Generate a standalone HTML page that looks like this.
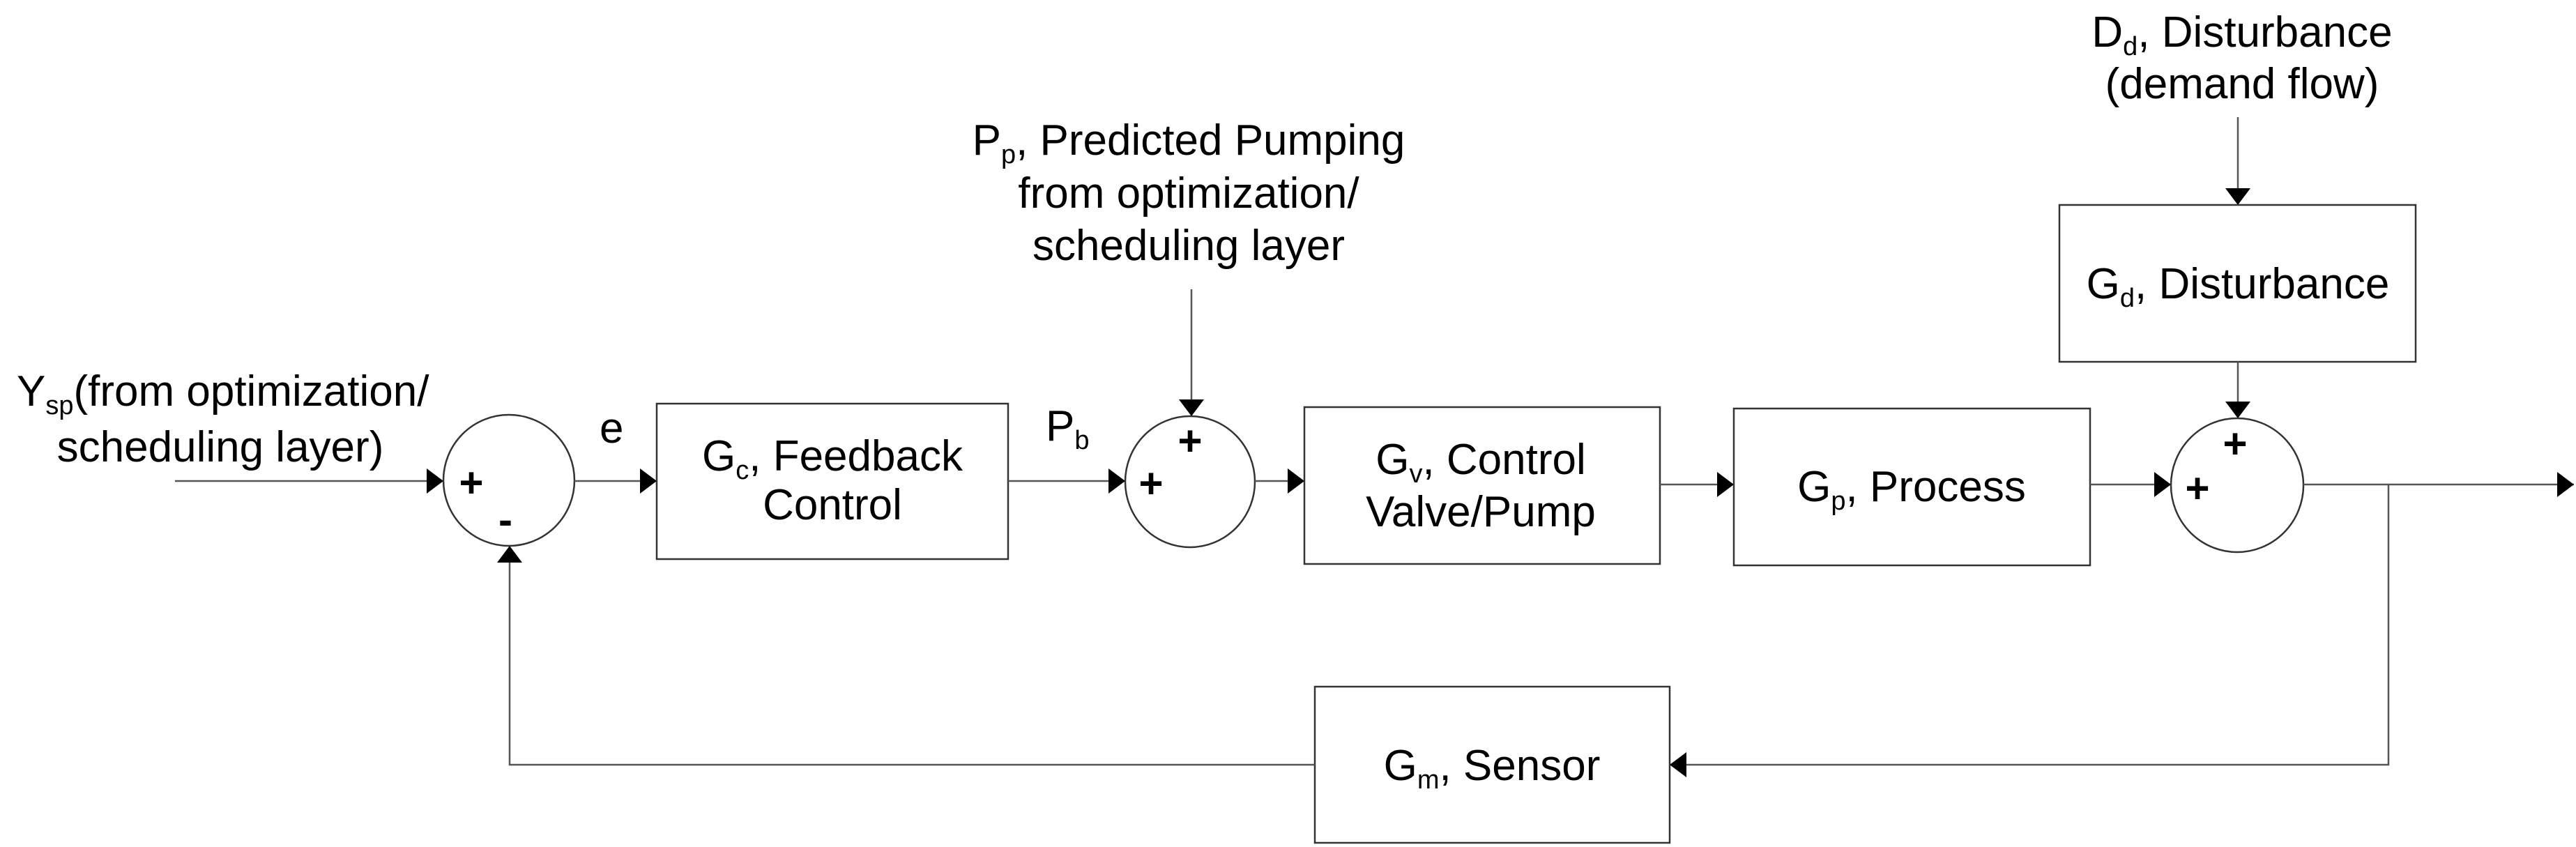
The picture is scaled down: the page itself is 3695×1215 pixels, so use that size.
<!DOCTYPE html>
<html><head><meta charset="utf-8"><style>
html,body{margin:0;padding:0;background:#fff}
svg{display:block}
text{font-family:"Liberation Sans",Arial,sans-serif;font-size:62px;fill:#000}
.s{font-size:38px}
.pm{font-weight:bold;font-size:60px}
</style></head><body>
<svg width="3695" height="1215" viewBox="0 0 3695 1215" xmlns="http://www.w3.org/2000/svg">
<defs>
<marker id="a" markerWidth="10" markerHeight="10" refX="10" refY="5" orient="auto" markerUnits="userSpaceOnUse" viewBox="0 0 10 10">
<path d="M0,0 L10,5 L0,10 z" fill="#000"/></marker>
<marker id="b" viewBox="0 0 10 10" refX="10" refY="5" markerWidth="24" markerHeight="36" orient="auto" markerUnits="userSpaceOnUse" preserveAspectRatio="none">
<path d="M0,0 L10,5 L0,10 z" fill="#000"/></marker>
</defs>
<g fill="none" stroke="#333" stroke-width="2.5">
<rect x="942" y="579" width="504" height="223"/>
<rect x="1871" y="584" width="510" height="225"/>
<rect x="2487" y="586" width="511" height="225"/>
<rect x="2954" y="294" width="511" height="225"/>
<rect x="1886" y="985" width="509" height="224"/>
<ellipse cx="730" cy="689" rx="94" ry="94"/>
<ellipse cx="1707" cy="691" rx="93" ry="94"/>
<ellipse cx="3209" cy="696" rx="95" ry="96"/>
</g>
<g fill="none" stroke="#555" stroke-width="2.5" marker-end="url(#b)">
<line x1="251" y1="690" x2="636" y2="690"/>
<line x1="824" y1="690" x2="942" y2="690"/>
<line x1="1446" y1="690" x2="1614" y2="690"/>
<line x1="1709" y1="415" x2="1709" y2="597"/>
<line x1="1800" y1="690" x2="1871" y2="690"/>
<line x1="2381" y1="695" x2="2487" y2="695"/>
<line x1="2998" y1="695" x2="3114" y2="695"/>
<line x1="3210" y1="168" x2="3210" y2="294"/>
<line x1="3210" y1="519" x2="3210" y2="600"/>
<line x1="3304" y1="695" x2="3692" y2="695"/>
<polyline points="3426,695 3426,1097 2395,1097"/>
<polyline points="1886,1097 731,1097 731,783"/>
</g>
<text x="24" y="582">Y<tspan class="s" dy="12">sp</tspan><tspan dy="-12">(from optimization/</tspan></text>
<text x="316" y="662" text-anchor="middle">scheduling layer)</text>
<text x="860" y="635">e</text>
<text x="1500" y="632">P<tspan class="s" dy="12">b</tspan></text>
<text x="1194" y="675" text-anchor="middle">G<tspan class="s" dy="12">c</tspan><tspan dy="-12">, Feedback</tspan></text>
<text x="1194" y="745" text-anchor="middle">Control</text>
<text x="2124" y="680" text-anchor="middle">G<tspan class="s" dy="12">v</tspan><tspan dy="-12">, Control</tspan></text>
<text x="2124" y="755" text-anchor="middle">Valve/Pump</text>
<text x="2742" y="719" text-anchor="middle">G<tspan class="s" dy="12">p</tspan><tspan dy="-12">, Process</tspan></text>
<text x="3210" y="428" text-anchor="middle">G<tspan class="s" dy="12">d</tspan><tspan dy="-12">, Disturbance</tspan></text>
<text x="2140" y="1119" text-anchor="middle">G<tspan class="s" dy="12">m</tspan><tspan dy="-12">, Sensor</tspan></text>
<text x="3216" y="67" text-anchor="middle">D<tspan class="s" dy="12">d</tspan><tspan dy="-12">, Disturbance</tspan></text>
<text x="3216" y="141" text-anchor="middle">(demand flow)</text>
<text x="1705" y="222" text-anchor="middle">P<tspan class="s" dy="12">p</tspan><tspan dy="-12">, Predicted Pumping</tspan></text>
<text x="1705" y="298" text-anchor="middle">from optimization/</text>
<text x="1705" y="373" text-anchor="middle">scheduling layer</text>
<text class="pm" x="676" y="713" text-anchor="middle">+</text>
<text class="pm" x="725" y="766" text-anchor="middle">-</text>
<text class="pm" x="1707" y="653" text-anchor="middle">+</text>
<text class="pm" x="1651" y="714" text-anchor="middle">+</text>
<text class="pm" x="3206" y="657" text-anchor="middle">+</text>
<text class="pm" x="3152" y="721" text-anchor="middle">+</text>
</svg>
</body></html>
